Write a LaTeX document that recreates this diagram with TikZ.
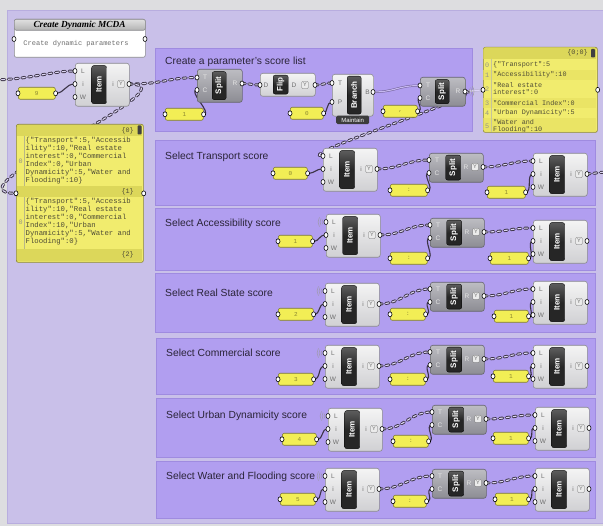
\documentclass[tikz,border=0pt]{standalone}
\usepackage{fontspec}
\setmainfont{Liberation Sans}
\setmonofont{Liberation Mono}
\newfontfamily\ghserif{Liberation Serif}
\usetikzlibrary{calc}
\pgfdeclarelayer{groups}
\pgfdeclarelayer{wires}
\pgfsetlayers{groups,wires,main}

\definecolor{canvasgrey}{HTML}{DDDDE0}
\definecolor{outerlav}{HTML}{C9C0E9}
\definecolor{outeredge}{HTML}{B8ADDF}
\definecolor{grpfill}{HTML}{B19EF0}
\definecolor{grpedge}{HTML}{9F8BE0}
\definecolor{titletext}{HTML}{2A2438}
\definecolor{lighttop}{HTML}{F4F4F4}
\definecolor{lightbot}{HTML}{D0D0D3}
\definecolor{lightedge}{HTML}{8A8A8E}
\definecolor{darktop}{HTML}{BDBDC2}
\definecolor{darkbot}{HTML}{8C8C93}
\definecolor{darkedge}{HTML}{66666C}
\definecolor{bandfill}{HTML}{262626}
\definecolor{labelgrey}{HTML}{6E6E6E}
\definecolor{numfill}{HTML}{F2EE55}
\definecolor{numedge}{HTML}{7F7C2E}
\definecolor{numtext}{HTML}{8C8830}
\definecolor{panelfill}{HTML}{F1EC6E}
\definecolor{panelalt}{HTML}{EAE465}
\definecolor{paneledge}{HTML}{8B8735}
\definecolor{panelhead}{HTML}{DCD75A}
\definecolor{paneltext}{HTML}{4F4C35}
\definecolor{wiredark}{HTML}{3B3346}
\definecolor{wirelight}{HTML}{DCD5F3}
\definecolor{listedge}{HTML}{6E5E96}
\definecolor{listfill}{HTML}{C6B8F0}

\tikzset{
  port/.style={fill=white, draw=black, line width=0.6pt},
  grp/.style={fill=grpfill, draw=grpedge, line width=0.6pt},
  grptitle/.style={anchor=west, inner sep=0pt, text=titletext,
    font=\fontsize{10.3}{12}\selectfont},
  lightbody/.style={rectangle, rounded corners=2.5pt, top color=lighttop,
    bottom color=lightbot, draw=lightedge, line width=0.6pt, inner sep=0pt},
  darkbody/.style={rectangle, rounded corners=2.5pt, top color=darktop,
    bottom color=darkbot, draw=darkedge, line width=0.6pt, inner sep=0pt},
  band/.style={rectangle, rounded corners=2pt, top color=bandfill!75!white,
    bottom color=bandfill, middle color=bandfill, draw=black, line width=0.3pt, inner sep=0pt},
  bandtext/.style={rotate=90, text=white, inner sep=0pt,
    font=\bfseries\fontsize{8}{8}\selectfont},
  plabel/.style={inner sep=0pt, text=labelgrey, font=\fontsize{6.5}{7}\selectfont},
  dlabel/.style={inner sep=0pt, text=white!90!black, font=\fontsize{6.5}{7}\selectfont},
  ybox/.style={rectangle, draw=labelgrey, fill=white!92!black, rounded corners=0.8pt,
    minimum width=6.5pt, minimum height=7pt, inner sep=0pt, text=labelgrey,
    font=\fontsize{5.5}{5.5}\selectfont},
  numpanel/.style={rectangle, rounded corners=2pt, fill=numfill, draw=numedge,
    line width=0.6pt, minimum height=12pt, inner sep=0pt, text=numtext,
    font=\ttfamily\fontsize{6}{6}\selectfont},
  bigpanel/.style={rectangle, rounded corners=2pt, fill=panelfill, draw=paneledge,
    line width=0.7pt, inner sep=0pt},
  ptext/.style={inner sep=0pt, anchor=west, text=paneltext,
    font=\ttfamily\fontsize{6.8}{7.4}\selectfont},
  treewire/.style={draw=wiredark, line width=3pt, line cap=round,
    dash pattern=on 3.2pt off 3.6pt,
    postaction={draw=wirelight, line width=1.1pt, line cap=round,
      dash pattern=on 3.2pt off 3.6pt}},
  itemwire/.style={draw=wiredark, line width=1.1pt},
  listwire/.style={draw=listedge, line width=0.5pt, double=listfill, double distance=1.1pt},
  wless/.style={draw=labelgrey!70, line width=0.4pt},
}

% port circle
\newcommand\ghport[1]{\filldraw[port] #1 ellipse [x radius=2pt, y radius=2.5pt];}

% Item component, 54 x 43, top-left at (#2,#3)
\newcommand\ghItem[3]{%
\begin{scope}[shift={(#2,#3)}]
  \node[lightbody, minimum width=54pt, minimum height=43pt, anchor=north west] (#1) at (0,0) {};
  \node[band, minimum width=15pt, minimum height=38pt, anchor=north west] at (16.5,2.5) {};
  \node[bandtext] at (24,21.5) {Item};
  \node[plabel] at (8,8) {L};
  \node[plabel] at (8,21) {i};
  \node[plabel] at (8,34) {W};
  \node[plabel] at (38,21) {i};
  \node[ybox] at (46,21) {Y};
  \coordinate (#1-L) at (0,8);
  \coordinate (#1-i) at (0,21);
  \coordinate (#1-W) at (0,34);
  \coordinate (#1-o) at (54,21);
  \ghport{(0,8)}\ghport{(0,21)}\ghport{(0,34)}\ghport{(54,21)}
\end{scope}}

% Split component with graft flag, 54 x 29
\newcommand\ghSplitY[3]{%
\begin{scope}[shift={(#2,#3)}]
  \node[darkbody, minimum width=54pt, minimum height=29pt, anchor=north west] (#1) at (0,0) {};
  \node[band, minimum width=15pt, minimum height=25pt, anchor=north west] at (16.5,2) {};
  \node[bandtext] at (24,14.5) {Split};
  \node[dlabel] at (8,7) {T};
  \node[dlabel] at (8,20) {C};
  \node[dlabel] at (37,14) {R};
  \node[ybox] at (46,14) {Y};
  \coordinate (#1-T) at (0,7);
  \coordinate (#1-C) at (0,20);
  \coordinate (#1-R) at (54,14);
  \ghport{(0,7)}\ghport{(0,20)}\ghport{(54,14)}
\end{scope}}

% Split component, 45 wide, height #4
\newcommand\ghSplit[4]{%
\begin{scope}[shift={(#2,#3)}]
  \node[darkbody, minimum width=45pt, minimum height=#4pt, anchor=north west] (#1) at (0,0) {};
  \node[band, minimum width=14pt, minimum height=#4pt-5pt, anchor=north west] at (15,2.5) {};
  \node[bandtext] at (22,#4/2) {Split};
  \node[dlabel] at (8,8.5) {T};
  \node[dlabel] at (8,21) {C};
  \node[dlabel] at (38,14.5) {R};
  \coordinate (#1-T) at (0,8.5);
  \coordinate (#1-C) at (0,21);
  \coordinate (#1-R) at (45,14.5);
  \ghport{(0,8.5)}\ghport{(0,21)}\ghport{(45,14.5)}
\end{scope}}

% number panel
\newcommand\ghNum[5]{%
  \node[numpanel, minimum width=#4pt, anchor=north west] (#1) at (#2,#3) {#5};
  \ghport{(#1.west)}\ghport{(#1.east)}}

\begin{document}
\begin{tikzpicture}[x=1pt, y=-1pt]
\useasboundingbox (0,0) rectangle (603,526);

\begin{pgfonlayer}{groups}
  \fill[canvasgrey] (0,0) rectangle (603,526);
  \filldraw[fill=outerlav, draw=outeredge, line width=0.6pt] (7,10) rectangle (604,523);
  % groups
  \filldraw[grp] (155,48) rectangle (472,131);
  \filldraw[grp] (155,140) rectangle (595,205);
  \filldraw[grp] (155,208) rectangle (595,270);
  \filldraw[grp] (155,273) rectangle (595,332);
  \filldraw[grp] (156,338) rectangle (595,394);
  \filldraw[grp] (156,398) rectangle (595,457);
  \filldraw[grp] (156,461) rectangle (595,518);
\end{pgfonlayer}

% group titles
\node[grptitle] (t0) at (165,62) {Create a parameter's score list};
\node[grptitle] (t1) at (165,157) {Select Transport score};
\node[grptitle] (t2) at (165,224) {Select Accessibility score};
\node[grptitle] (t3) at (165,293) {Select Real State score};
\node[grptitle] (t4) at (166,353) {Select Commercial score};
\node[grptitle] (t5) at (166,416) {Select Urban Dynamicity score};
\node[grptitle] (t6) at (166,477) {Select Water and Flooding score};

% scribble box
\node[rectangle, draw=lightedge, line width=0.6pt, fill=white, minimum width=131pt,
  minimum height=38pt, anchor=north west, inner sep=0pt, rounded corners=2pt] (note) at (14,19) {};
\node[rectangle, top color=white!88!black, bottom color=white!70!black, draw=lightedge,
  line width=0.6pt, minimum width=131pt, minimum height=11pt, anchor=north west,
  inner sep=0pt, rounded corners=2pt] (notehead) at (14,19) {};
\node[inner sep=0pt, font=\ghserif\bfseries\itshape\fontsize{9.3}{10}\selectfont] (notetitle)
  at (79.5,24.8) {Create Dynamic MCDA};
\node[inner sep=0pt, text=labelgrey, font=\ttfamily\fontsize{7}{8}\selectfont] (notebody)
  at (76,44) {Create dynamic parameters};
\ghport{(14,39)}\ghport{(145,39)}

% input chain at the top left
\ghItem{itemA}{75}{63}
\ghNum{numA}{18}{87}{37}{9}

% list of parameter strings
\node[bigpanel, minimum width=127pt, minimum height=138pt, anchor=north west] (listL) at (16,124) {};
\fill[panelhead] (16.6,124.6) rectangle (142.4,136);
\fill[panelhead] (16.6,186) rectangle (142.4,197);
\fill[panelhead] (16.6,249) rectangle (142.4,261.4);
\draw[paneledge!60, line width=0.3pt] (24,136) -- (24,186) (24,197) -- (24,249);
\fill[black!75, rounded corners=0.8pt] (137.5,125.5) rectangle (141.5,134.5);
\node[ptext, anchor=east] (hd0) at (134,130.5) {\{0\}};
\node[ptext, anchor=east] (hd1) at (134,191.8) {\{1\}};
\node[ptext, anchor=east] (hd2) at (134,255) {\{2\}};
\node[ptext, text=paneltext!60] (ix0) at (18.5,161) {0};
\node[ptext, text=paneltext!60] (ix1) at (18.5,222) {0};
\node[ptext, anchor=north west, align=left, font=\ttfamily\fontsize{7.3}{8}\selectfont] (blk0)
  at (25.5,137.5) {\{"Transport":5,"Accessib\\ility":10,"Real estate\\interest":0,"Commercial\\Index":0,"Urban\\Dynamicity":5,"Water and\\Flooding":10\}};
\node[ptext, anchor=north west, align=left, font=\ttfamily\fontsize{7.3}{8}\selectfont] (blk1)
  at (25.5,198) {\{"Transport":5,"Accessib\\ility":10,"Real estate\\interest":0,"Commercial\\Index":10,"Urban\\Dynamicity":5,"Water and\\Flooding":0\}};
\ghport{(listL.west)}\ghport{(listL.east)}

% create a parameter's score list
\ghSplit{splitA}{197}{69}{33}
\ghNum{numB}{165}{108}{38}{1}
\begin{scope}[shift={(260,73)}]
  \node[lightbody, minimum width=55pt, minimum height=23pt, anchor=north west] (flip) at (0,0) {};
  \node[band, minimum width=15pt, minimum height=19pt, anchor=north west] at (13,2) {};
  \node[bandtext] at (20.5,11.5) {Flip};
  \node[plabel] at (6,12) {D};
  \node[plabel] at (34,12) {D};
  \node[ybox] at (45,12) {Y};
  \coordinate (flip-D) at (0,12);
  \coordinate (flip-o) at (55,12);
  \ghport{(0,12)}\ghport{(55,12)}
\end{scope}
\begin{scope}[shift={(332,74)}]
  \node[lightbody, minimum width=41pt, minimum height=42pt, anchor=north west] (branch) at (0,0) {};
  \node[band, minimum width=14pt, minimum height=38pt, anchor=north west] at (15,2) {};
  \node[bandtext] at (22,21) {Branch};
  \node[rectangle, fill=bandfill!90, rounded corners=1.5pt, minimum width=33pt, minimum height=8.5pt,
    anchor=north west, inner sep=0pt, text=white, font=\fontsize{6}{6}\selectfont] (maintain)
    at (4,41.5) {Maintain};
  \node[plabel] at (8,9) {T};
  \node[plabel] at (8,28) {P};
  \node[plabel] at (35.5,18) {B};
  \coordinate (branch-T) at (0,9);
  \coordinate (branch-P) at (0,28);
  \coordinate (branch-B) at (41,18);
  \ghport{(0,9)}\ghport{(0,28)}\ghport{(41,18)}
\end{scope}
\ghNum{numC}{290}{107}{33}{0}
\ghNum{numD}{383}{105}{34}{,}
\ghSplit{splitB}{420}{77}{29}

% score list panel
\node[bigpanel, minimum width=114pt, minimum height=85pt, anchor=north west] (listR) at (483,47) {};
\begin{scope}
  \clip[rounded corners=2pt] (483.4,47.4) rectangle (596.6,131.6);
  \fill[panelhead] (483,47) rectangle (597,59);
  \fill[panelalt] (483,70) rectangle (597,80);
  \fill[panelalt] (483,98) rectangle (597,108);
  \fill[panelalt] (483,118) rectangle (597,132);
  \draw[paneledge!50, line width=0.3pt] (491,59) -- (491,132);
  \fill[black!75, rounded corners=0.8pt] (591,49) rectangle (595,57.5);
  \node[ptext, anchor=east] (hdR) at (588,53) {\{0;0\}};
  \node[ptext, text=paneltext!60] at (485,65) {0};
  \node[ptext, text=paneltext!60] at (485,75) {1};
  \node[ptext, text=paneltext!60] at (485,89) {2};
  \node[ptext, text=paneltext!60] at (485,103) {3};
  \node[ptext, text=paneltext!60] at (485,113) {4};
  \node[ptext, text=paneltext!60] at (485,126) {5};
  \node[ptext] (r0) at (493,65) {\{"Transport":5};
  \node[ptext] (r1) at (493,75) {"Accessibility":10};
  \node[ptext] (r2) at (493,85) {"Real estate};
  \node[ptext] (r2b) at (493,92.5) {interest":0};
  \node[ptext] (r3) at (493,103) {"Commercial Index":0};
  \node[ptext] (r4) at (493,113) {"Urban Dynamicity":5};
  \node[ptext] (r5) at (493,122.5) {"Water and};
  \node[ptext] (r5b) at (493,130) {Flooding":10};
\end{scope}
\ghport{(listR.west)}\ghport{(listR.east)}

% select groups: item, index, split, separator, item, index
\ghItem{g1-item}{323}{148}   \ghNum{g1-num}{273}{167}{34}{0}
\ghSplitY{g1-split}{429}{153} \ghNum{g1-sep}{390}{184}{37}{:}
\ghNum{g1-idx}{487}{186}{38}{1} \ghItem{g1-item2}{533}{153}

\ghItem{g2-item}{326}{214}   \ghNum{g2-num}{278}{235}{34}{1}
\ghSplitY{g2-split}{430}{218} \ghNum{g2-sep}{390}{252}{37}{:}
\ghNum{g2-idx}{490}{252}{38}{1} \ghItem{g2-item2}{533}{220}

\ghItem{g3-item}{325}{283}   \ghNum{g3-num}{278}{308}{35}{2}
\ghSplitY{g3-split}{430}{282} \ghNum{g3-sep}{390}{308}{35}{:}
\ghNum{g3-idx}{494}{310}{34}{1} \ghItem{g3-item2}{533}{281}

\ghItem{g4-item}{325}{345}   \ghNum{g4-num}{278}{373}{35}{3}
\ghSplitY{g4-split}{430}{345} \ghNum{g4-sep}{390}{373}{35}{:}
\ghNum{g4-idx}{493}{370}{35}{1} \ghItem{g4-item2}{533}{345}

\ghItem{g5-item}{328}{408}   \ghNum{g5-num}{282}{433}{34}{4}
\ghSplitY{g5-split}{432}{405} \ghNum{g5-sep}{393}{435}{35}{:}
\ghNum{g5-idx}{493}{432}{35}{1} \ghItem{g5-item2}{535}{407}

\ghItem{g6-item}{325}{468}   \ghNum{g6-num}{280}{493}{35}{5}
\ghSplitY{g6-split}{432}{469} \ghNum{g6-sep}{393}{495}{33}{:}
\ghNum{g6-idx}{495}{493}{33}{1} \ghItem{g6-item2}{535}{468}

% wireless markers on the list inputs
\foreach \g in {g2,g3,g4,g5,g6}{
  \foreach \r in {4,6,8}{
    \draw[wless] ($(\g-item-L)+(145:\r pt)$) arc[start angle=145, end angle=215, radius=\r pt];
  }
}
\foreach \r in {5,7,9}{
  \draw[wless] ($(splitB-R)+(-35:\r pt)$) arc[start angle=-35, end angle=35, radius=\r pt];
}

% connectors
\coordinate (inL) at (-12,80);
\coordinate (outR) at (612,172);
\begin{pgfonlayer}{wires}
  \draw[treewire] (inL) .. controls (30,80) and (50,71) .. (itemA-L);
  \draw[itemwire] (numA.east) .. controls (65,93) and (65,84) .. (itemA-i);
  \draw[treewire] (itemA-o) .. controls (165,84) and (165,78) .. (splitA-T);
  \draw[treewire] (itemA-o) .. controls (200,84) and (-60,193) .. (listL.west);
  \draw[itemwire] (numB.east) .. controls (213,114) and (187,90) .. (splitA-C);
  \draw[treewire] (splitA-R) .. controls (250,83.5) and (252,85) .. (flip-D);
  \draw[treewire] (flip-o) .. controls (323,85) and (324,83) .. (branch-T);
  \draw[itemwire] (numC.east) .. controls (328,113) and (326,102) .. (branch-P);
  \draw[listwire] (branch-B) .. controls (395,92) and (398,85.5) .. (splitB-T);
  \draw[itemwire] (numD.east) .. controls (425,111) and (414,98) .. (splitB-C);
  \draw[listwire, draw=listedge!50, double=listfill!60] (splitB-R) -- (listR.west);
  \draw[treewire] (splitB-R) .. controls (495,92) and (290,156) .. (g1-item-L);
  \draw[treewire] (g1-item2-o) .. controls (598,173) and (600,172) .. (outR);
  \foreach \g in {g1,g2,g3,g4,g5,g6}{
    \draw[itemwire] (\g-num.east) .. controls +(8,0) and +(-8,0) .. (\g-item-i);
    \draw[treewire] (\g-item-o) .. controls +(22,0) and +(-22,0) .. (\g-split-T);
    \draw[itemwire] (\g-sep.east) .. controls +(8,0) and +(-8,0) .. (\g-split-C);
    \draw[treewire] (\g-split-R) .. controls +(22,0) and +(-22,0) .. (\g-item2-L);
    \draw[itemwire] (\g-idx.east) .. controls +(7,0) and +(-7,0) .. (\g-item2-i);
  }
\end{pgfonlayer}
\end{tikzpicture}
\end{document}
